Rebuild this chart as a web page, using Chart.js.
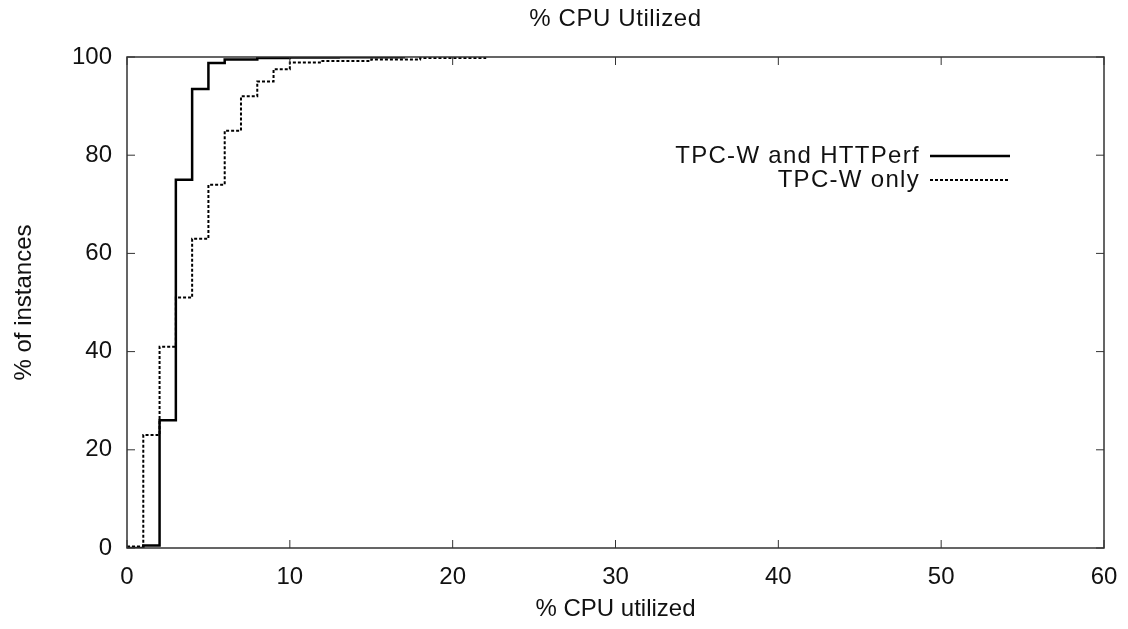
<!DOCTYPE html>
<html>
<head>
<meta charset="utf-8">
<script src="https://cdn.jsdelivr.net/npm/chart.js@4"></script>
<style>
  html, body { margin: 0; padding: 0; background: #fff; }
  #wrap { width: 1128px; height: 629px; }
</style>
</head>
<body>
<div id="wrap"><canvas id="cpuChart" width="1128" height="629"></canvas></div>
<script>
// CDF of % CPU utilized
var xTicks = [0, 10, 20, 30, 40, 50, 60];
var yTicks = [0, 20, 40, 60, 80, 100];

var bothX = [0, 1, 2, 3, 4, 5, 6, 8, 10, 13, 17];
var bothY = [0, 0.5, 26, 75, 93.5, 98.8, 99.5, 99.8, 99.9, 99.95, 100];

var onlyX = [0, 1, 2, 3, 4, 5, 6, 7, 8, 9, 10, 12, 15, 18, 22];
var onlyY = [0.3, 23, 41, 51, 63, 74, 85, 92, 95, 97.5, 98.9, 99.2, 99.5, 99.8, 100];

var FONT = "'Liberation Sans', Arial, sans-serif";

function pts(xs, ys) {
	var out = [];
	for (var i = 0; i < xs.length; i++) {
		out.push({x: xs[i], y: ys[i]});
	}
	return out;
}

// gnuplot style frame, inward ticks, title and key
var framePlugin = {
	id: 'frame',
	afterDraw: function (chart) {
		var ctx = chart.ctx;
		var a = chart.chartArea;
		var xs = chart.scales.x, ys = chart.scales.y;
		ctx.save();
		ctx.strokeStyle = '#333';
		ctx.lineWidth = 1.5;
		ctx.strokeRect(a.left, a.top, a.right - a.left, a.bottom - a.top);
		ctx.lineWidth = 1;
		ctx.beginPath();
		xs.ticks.forEach(function (t) {
			var px = xs.getPixelForValue(t.value);
			ctx.moveTo(px, a.bottom); ctx.lineTo(px, a.bottom - 8);
			ctx.moveTo(px, a.top); ctx.lineTo(px, a.top + 8);
		});
		ys.ticks.forEach(function (t) {
			var py = ys.getPixelForValue(t.value);
			ctx.moveTo(a.left, py); ctx.lineTo(a.left + 8, py);
			ctx.moveTo(a.right, py); ctx.lineTo(a.right - 8, py);
		});
		ctx.stroke();

		// title over the plot area
		ctx.fillStyle = '#111';
		ctx.font = '24px ' + FONT;
		ctx.textAlign = 'center';
		ctx.textBaseline = 'middle';
		ctx.letterSpacing = '0.6px';
		ctx.fillText('% CPU Utilized', (a.left + a.right) / 2, 19);

		// key
		ctx.textAlign = 'right';
		ctx.letterSpacing = '1.3px';
		chart.data.datasets.forEach(function (ds, i) {
			var y = 156 + i * 24;
			ctx.fillText(ds.label, 920, y);
			ctx.beginPath();
			ctx.strokeStyle = ds.borderColor;
			ctx.lineWidth = ds.borderWidth;
			ctx.setLineDash(ds.borderDash || []);
			ctx.moveTo(930, y);
			ctx.lineTo(1010, y);
			ctx.stroke();
		});
		ctx.restore();
	}
};

var ctx = document.getElementById('cpuChart').getContext('2d');
var cpuChart = new Chart(ctx, {
	type: 'line',
	data: {
		datasets: [{
			label: 'TPC-W and HTTPerf',
			data: pts(bothX, bothY),
			borderColor: '#000',
			borderWidth: 2.5,
			stepped: true,
			pointRadius: 0,
			fill: false
		}, {
			label: 'TPC-W only',
			data: pts(onlyX, onlyY),
			borderColor: '#000',
			borderWidth: 2,
			borderDash: [3, 2],
			stepped: true,
			pointRadius: 0,
			fill: false
		}]
	},
	options: {
		responsive: false,
		animation: false,
		layout: { padding: { top: 57, right: 24, bottom: 0, left: 0 } },
		plugins: {
			legend: { display: false },
			title: { display: false },
			tooltip: { enabled: false }
		},
		scales: {
			x: {
				type: 'linear',
				min: 0,
				max: 60,
				afterBuildTicks: function (s) { s.ticks = xTicks.map(function (v) { return {value: v}; }); },
				afterFit: function (s) { s.height = 81; s.paddingLeft = 0; s.paddingRight = 0; },
				grid: { display: false, drawTicks: false },
				border: { display: false },
				ticks: { color: '#111', padding: 15, font: { family: FONT, size: 24 }, maxRotation: 0 },
				title: { display: true, text: '% CPU utilized', color: '#111', padding: { top: 0, bottom: 5 }, font: { family: FONT, size: 24 } }
			},
			y: {
				type: 'linear',
				min: 0,
				max: 100,
				afterBuildTicks: function (s) { s.ticks = yTicks.map(function (v) { return {value: v}; }); },
				afterFit: function (s) { s.width = 127; },
				grid: { display: false, drawTicks: false },
				border: { display: false },
				ticks: { color: '#111', padding: 15, font: { family: FONT, size: 24 } },
				title: { display: true, text: '% of instances', color: '#111', padding: { top: 10, bottom: 0 }, font: { family: FONT, size: 24 } }
			}
		}
	},
	plugins: [framePlugin]
});
</script>
</body>
</html>
